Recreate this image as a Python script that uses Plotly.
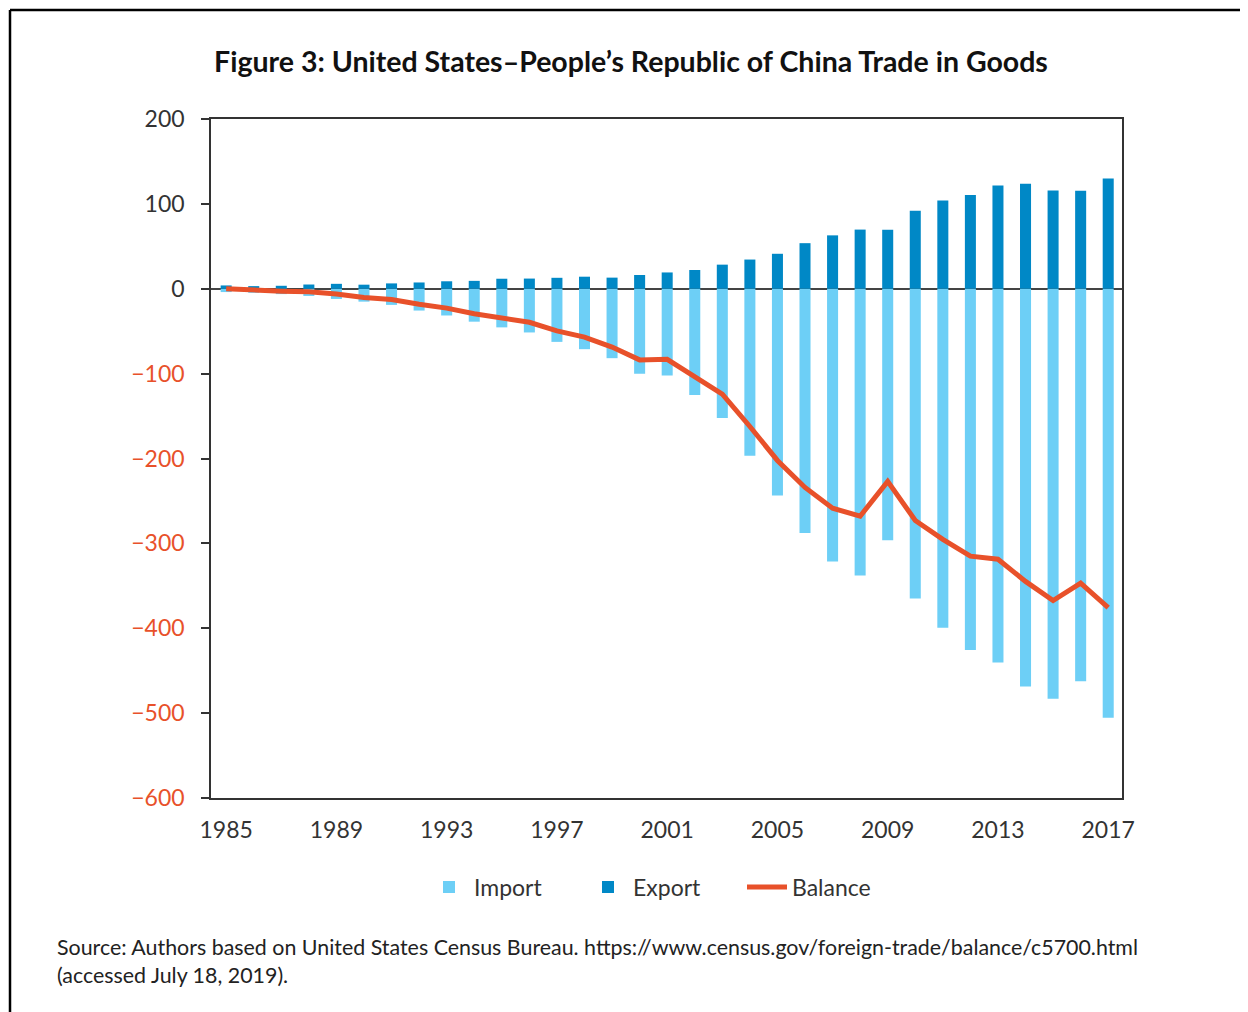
import plotly.graph_objects as go

years = list(range(1985, 2018))
exports = [3.9, 3.1, 3.5, 5.0, 5.8, 4.8, 6.3, 7.4, 8.8, 9.3, 11.8, 12.0, 12.9, 14.2, 13.1,
           16.2, 19.2, 22.1, 28.4, 34.4, 41.2, 53.7, 62.9, 69.7, 69.5, 91.9, 104.1, 110.5,
           121.7, 123.7, 115.9, 115.6, 129.9]
imports = [-3.9, -4.8, -6.3, -8.5, -12.0, -15.2, -19.0, -25.7, -31.5, -38.8, -45.5, -51.5,
           -62.6, -71.2, -81.8, -100.0, -102.3, -125.2, -152.4, -196.7, -243.5, -287.8,
           -321.4, -337.8, -296.4, -364.9, -399.4, -425.6, -440.4, -468.5, -483.2, -462.4,
           -505.5]
balance = [-0.0, -1.7, -2.8, -3.5, -6.2, -10.4, -12.7, -18.3, -22.8, -29.5, -33.8, -39.5,
           -49.7, -56.9, -68.7, -83.8, -83.1, -103.1, -124.1, -162.3, -202.3, -234.1, -258.5,
           -268.0, -226.9, -273.0, -295.3, -315.1, -318.7, -344.8, -367.3, -346.8, -375.6]

x_tickvals = [1985, 1989, 1993, 1997, 2001, 2005, 2009, 2013, 2017]
y_tickvals = [200, 100, 0, -100, -200, -300, -400, -500, -600]

RED = "#E8512A"
C_IMPORT = "#6DCFF6"
C_EXPORT = "#0088C6"
FONT = "Lato"

y_ticktext = []
for v in y_tickvals:
    if v < 0:
        y_ticktext.append("<span style='color:%s'>\u2212%d</span>" % (RED, -v))
    else:
        y_ticktext.append(str(v))

fig = go.Figure()
fig.add_trace(go.Bar(x=years, y=imports, name="Import", marker_color=C_IMPORT,
                     marker_line_width=0, width=0.4))
fig.add_trace(go.Bar(x=years, y=exports, name="Export", marker_color=C_EXPORT,
                     marker_line_width=0, width=0.4))
fig.add_trace(go.Scatter(x=years, y=balance, name="Balance", mode="lines",
                         line=dict(color=RED, width=5)))

# page offset (body margin) of 8px; coordinates below are page pixels
OFF = 8
W, H = 1248 - OFF, 1012 - OFF
L, R, T, B = 211 - OFF, 1122 - OFF, 119 - OFF, 798 - OFF
pw, ph = R - L, B - T

def px_x(p):
    return (p - OFF - L) / pw

def px_y(p):
    return (B - (p - OFF)) / ph

fig.update_layout(
    width=W, height=H,
    margin=dict(l=L, r=W - R, t=T, b=H - B, pad=0),
    paper_bgcolor="white", plot_bgcolor="white",
    barmode="relative",
    font=dict(family=FONT, size=22, color="#333333"),
    title=dict(text="<b>Figure 3: United States\u2013People\u2019s Republic of China Trade in Goods</b>",
               x=((215 + 1047) / 2 - OFF) / W, xanchor="center", y=1 - (62 - OFF) / H,
               yanchor="middle",
               font=dict(family=FONT, size=28.5, color="#111111")),
    showlegend=True,
    legend=dict(orientation="h", x=px_x(424), xanchor="left", y=px_y(887), yanchor="middle",
                font=dict(size=23, color="#333333"), traceorder="normal",
                entrywidth=104, entrywidthmode="pixels", itemwidth=40,
                bgcolor="rgba(0,0,0,0)"),
    xaxis=dict(range=[1984.45, 2017.5], tickvals=x_tickvals, showgrid=False,
               showline=True, mirror=True, linecolor="#333333", linewidth=1.5,
               ticks="", ticklabelstandoff=11,
               tickfont=dict(size=23, color="#333333"), zeroline=False),
    yaxis=dict(range=[-600, 200], tickvals=y_tickvals, ticktext=y_ticktext, showgrid=False,
               showline=True, mirror=True, linecolor="#333333", linewidth=1.5,
               ticks="outside", ticklen=8, tickcolor="#333333", tickwidth=1.5,
               ticklabelstandoff=12,
               tickfont=dict(size=23, color="#333333"),
               zeroline=True, zerolinecolor="#444444", zerolinewidth=1.5),
)

fig.add_annotation(xref="paper", yref="paper", x=px_x(55), y=px_y(961), xanchor="left",
                   yanchor="middle", align="left", showarrow=False,
                   text="Source: Authors based on United States Census Bureau. https://www.census.gov/foreign-trade/balance/c5700.html<br>(accessed July 18, 2019).",
                   font=dict(family=FONT, size=21.4, color="#222222"))

# outer frame: top and left lines
fig.add_shape(type="line", xref="paper", yref="paper", x0=px_x(10), x1=px_x(1248),
              y0=px_y(10), y1=px_y(10), line=dict(color="black", width=2.5))
fig.add_shape(type="line", xref="paper", yref="paper", x0=px_x(10), x1=px_x(10),
              y0=px_y(10), y1=px_y(1012), line=dict(color="black", width=2.5))

fig.write_html("out.html")
